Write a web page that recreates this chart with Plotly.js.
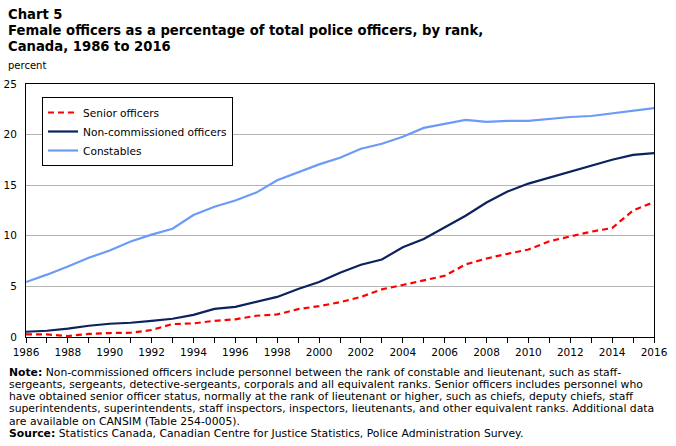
<!DOCTYPE html>
<html>
<head>
<meta charset="utf-8">
<script src="https://cdn.plot.ly/plotly-3.0.1.min.js"></script>
<style>
  html, body { margin: 0; padding: 0; background: #ffffff; }
  #chart { width: 676px; height: 446px; }
</style>
</head>
<body>
<div id="chart"></div>
<script>
// Years covered by the Police Administration Survey series
const years = [1986, 1987, 1988, 1989, 1990, 1991, 1992, 1993, 1994, 1995, 1996,
               1997, 1998, 1999, 2000, 2001, 2002, 2003, 2004, 2005, 2006,
               2007, 2008, 2009, 2010, 2011, 2012, 2013, 2014, 2015, 2016];

// Female share of officers (percent), by rank
const seniorOfficers = [0.26, 0.25, 0.10, 0.30, 0.39, 0.42, 0.69, 1.28, 1.34, 1.60, 1.75,
                        2.10, 2.23, 2.75, 3.05, 3.44, 3.96, 4.71, 5.14, 5.57, 6.05,
                        7.17, 7.76, 8.22, 8.64, 9.46, 9.95, 10.41, 10.77, 12.50, 13.33];
const nonCommissioned = [0.52, 0.62, 0.82, 1.11, 1.31, 1.41, 1.60, 1.80, 2.19, 2.78, 2.98,
                         3.47, 3.96, 4.75, 5.43, 6.35, 7.14, 7.66, 8.87, 9.69, 10.85,
                         11.98, 13.29, 14.37, 15.16, 15.75, 16.34, 17.00, 17.52, 18.00, 18.17];
const constables = [5.43, 6.16, 6.97, 7.83, 8.55, 9.43, 10.12, 10.70, 12.05, 12.87, 13.48,
                    14.27, 15.49, 16.30, 17.06, 17.71, 18.60, 19.09, 19.78, 20.66, 21.05,
                    21.45, 21.25, 21.35, 21.35, 21.55, 21.74, 21.84, 22.10, 22.33, 22.62];

const seriesNames = ['Senior officers', 'Non-commissioned officers', 'Constables'];
const xTickYears = [1986, 1988, 1990, 1992, 1994, 1996, 1998, 2000, 2002, 2004, 2006, 2008, 2010, 2012, 2014, 2016];
const yTicks = [0, 5, 10, 15, 20, 25];

const titleLines = [
  'Chart 5',
  'Female officers as a percentage of total police officers, by rank,',
  'Canada, 1986 to 2016'
];
const noteLines = [
  '<b>Note:</b> Non-commissioned officers include personnel between the rank of constable and lieutenant, such as staff-',
  'sergeants, sergeants, detective-sergeants, corporals and all equivalent ranks. Senior officers includes personnel who',
  'have obtained senior officer status, normally at the rank of lieutenant or higher, such as chiefs, deputy chiefs, staff',
  'superintendents, superintendents, staff inspectors, inspectors, lieutenants, and other equivalent ranks. Additional data',
  'are available on CANSIM (Table 254-0005).',
  '<b>Source:</b> Statistics Canada, Canadian Centre for Justice Statistics, Police Administration Survey.'
];

const baseFont = 'DejaVu Sans, Verdana, sans-serif';
const noteFont = 'DejaVu Sans, Tahoma, sans-serif';

const traces = [
  { x: years, y: seniorOfficers, name: seriesNames[0], type: 'scatter', mode: 'lines',
    line: { color: '#ff0000', width: 2.2, dash: '6px,4px' } },
  { x: years, y: nonCommissioned, name: seriesNames[1], type: 'scatter', mode: 'lines',
    line: { color: '#0c215e', width: 2.2 } },
  { x: years, y: constables, name: seriesNames[2], type: 'scatter', mode: 'lines',
    line: { color: '#6b9bf7', width: 2.2 } }
];

// Plot area spans 26..654 px horizontally and 84..337 px vertically
const plotL = 26, plotR = 654, plotT = 84, plotB = 337;
const px2x = p => (p - plotL) / (plotR - plotL);
const px2y = p => (plotB - p) / (plotB - plotT);

const annotations = [];
titleLines.forEach((t, i) => {
  annotations.push({
    text: '<b>' + t + '</b>', xref: 'paper', yref: 'paper',
    x: px2x(6), y: px2y(14 + i * 16.5), xanchor: 'left', yanchor: 'middle',
    showarrow: false, font: { family: baseFont, size: 13.2, color: '#000000' }
  });
});
annotations.push({
  text: 'percent', xref: 'paper', yref: 'paper',
  x: px2x(6), y: px2y(65), xanchor: 'left', yanchor: 'middle',
  showarrow: false, font: { family: baseFont, size: 10, color: '#000000' }
});
noteLines.forEach((t, i) => {
  annotations.push({
    text: t, xref: 'paper', yref: 'paper',
    x: px2x(7), y: px2y(372 + i * 12.3), xanchor: 'left', yanchor: 'middle',
    showarrow: false, font: { family: noteFont, size: 10.8, color: '#000000' }
  });
});

const layout = {
  width: 676, height: 446,
  margin: { l: plotL, r: 676 - plotR, t: plotT, b: 446 - plotB, pad: 0 },
  paper_bgcolor: '#ffffff', plot_bgcolor: '#ffffff',
  showlegend: true,
  legend: {
    x: px2x(42), y: px2y(97), xanchor: 'left', yanchor: 'top',
    bordercolor: '#000000', borderwidth: 1, bgcolor: '#ffffff',
    font: { family: baseFont, size: 10.6, color: '#000000' },
    tracegroupgap: 0
  },
  xaxis: {
    range: [1986, 2016], tickmode: 'array', tickvals: xTickYears, ticktext: xTickYears.map(String),
    showgrid: false, zeroline: false, showline: true, linecolor: '#000000', linewidth: 1,
    mirror: true, ticks: 'outside', ticklen: 5, tickcolor: '#000000',
    minor: { dtick: 1, ticks: 'outside', ticklen: 5, tickcolor: '#000000', showgrid: false },
    tickfont: { family: baseFont, size: 10.5, color: '#000000' }, fixedrange: true
  },
  yaxis: {
    range: [0, 25], tickmode: 'array', tickvals: yTicks, ticktext: yTicks.map(String),
    showgrid: true, gridcolor: '#b4b4b4', gridwidth: 1, zeroline: false,
    showline: true, linecolor: '#000000', linewidth: 1, mirror: true, ticks: '',
    ticklabelstandoff: 6,
    tickfont: { family: baseFont, size: 10.5, color: '#000000' }, fixedrange: true
  },
  annotations: annotations
};

Plotly.newPlot('chart', traces, layout, { displayModeBar: false, staticPlot: true });
</script>
</body>
</html>
